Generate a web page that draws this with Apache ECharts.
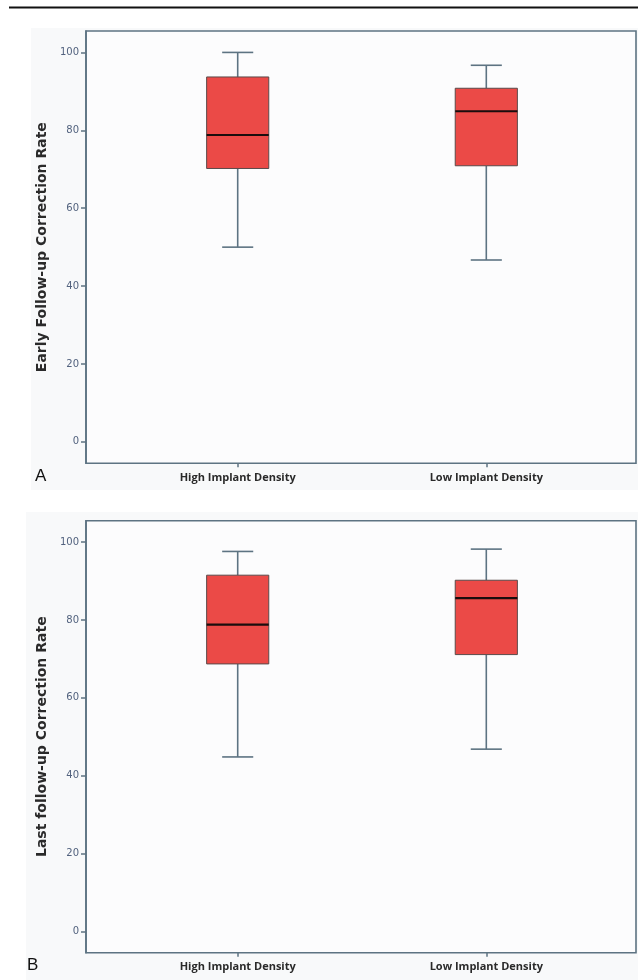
<!DOCTYPE html>
<html>
<head>
<meta charset="utf-8">
<script src="https://cdn.jsdelivr.net/npm/echarts@6/dist/echarts.min.js"></script>
<style>
    html, body {margin: 0; padding: 0; background: #fff;}
    #chart {width: 638px; height: 980px;}
</style>
</head>
<body>
<div id="chart"></div>
<script>
    // values: [low whisker, Q1, median, Q3, high whisker]
    var categories = ['High Implant Density', 'Low Implant Density'];
    var earlyHigh = [50, 70.2, 78.8, 93.7, 100];
    var earlyLow = [46.7, 70.9, 84.9, 90.8, 96.7];
    var lastHigh = [44.8, 68.7, 78.8, 91.5, 97.6];
    var lastLow = [46.8, 71.1, 85.6, 90.2, 98.2];
    var yTicks = [0, 20, 40, 60, 80, 100];
    var panelLetters = ['A', 'B'];
    var yNames = ['Early Follow-up Correction Rate', 'Last follow-up Correction Rate'];

    var frameColor = '#5d7382';
    var textColor = '#2a2a2a';

    var myChart = echarts.init(document.getElementById('chart'));

    function renderBox(params, api) {
        var x = api.value(0);
        var low = api.coord([x, api.value(1)]);
        var q1 = api.coord([x, api.value(2)]);
        var med = api.coord([x, api.value(3)]);
        var q3 = api.coord([x, api.value(4)]);
        var high = api.coord([x, api.value(5)]);
        var cx = low[0];
        var half = api.size([1, 0])[0] * 0.125;
        var cap = half / 2;
        var whisker = {stroke: frameColor, lineWidth: 1.6};
        return {
            type: 'group',
            children: [
                {type: 'line', shape: {x1: cx, y1: high[1], x2: cx, y2: q3[1]}, style: whisker},
                {type: 'line', shape: {x1: cx, y1: q1[1], x2: cx, y2: low[1]}, style: whisker},
                {type: 'line', shape: {x1: cx - cap, y1: high[1], x2: cx + cap, y2: high[1]}, style: whisker},
                {type: 'line', shape: {x1: cx - cap, y1: low[1], x2: cx + cap, y2: low[1]}, style: whisker},
                {
                    type: 'rect',
                    shape: {x: cx - half, y: q3[1], width: half * 2, height: q1[1] - q3[1]},
                    style: {fill: '#eb4a47', stroke: '#5a4a4a', lineWidth: 1}
                },
                {type: 'line', shape: {x1: cx - half, y1: med[1], x2: cx + half, y2: med[1]}, style: {stroke: '#1a0d0d', lineWidth: 2.2}}
            ]
        };
    }

    function toRows(a, b) {
        return [[0].concat(a), [1].concat(b)];
    }

    var panels = [
        {top: 31, bottom: 516.7, data: toRows(earlyHigh, earlyLow)},
        {top: 520.7, bottom: 27.3, data: toRows(lastHigh, lastLow)}
    ];

    var grid = [], xAxis = [], yAxis = [], series = [];

    panels.forEach(function (p, i) {
        // outer frame with the value axis
        grid.push({
            left: 86, right: 2, top: p.top, bottom: p.bottom,
            show: true, backgroundColor: '#fcfcfd',
            borderColor: frameColor, borderWidth: 1.6
        });
        // inner grid that places the two boxes
        grid.push({left: 113.4, right: 27.4, top: p.top, bottom: p.bottom});

        xAxis.push({gridIndex: i * 2, type: 'value', show: false});
        xAxis.push({
            gridIndex: i * 2 + 1,
            type: 'category',
            data: categories,
            axisLine: {show: false, onZero: false},
            axisTick: {show: true, alignWithLabel: true, length: 4, lineStyle: {color: frameColor, width: 1.5}},
            axisLabel: {margin: 9, fontFamily: 'Open Sans', fontWeight: 'bold', fontSize: 11, color: textColor}
        });

        yAxis.push({
            gridIndex: i * 2,
            type: 'value',
            min: -5.5,
            max: 105.5,
            name: yNames[i],
            nameLocation: 'middle',
            nameGap: 37,
            nameTextStyle: {fontFamily: 'DejaVu Sans', fontWeight: 'bold', fontSize: 14, color: textColor},
            axisLine: {show: true, lineStyle: {color: frameColor, width: 1.6}},
            axisTick: {show: true, length: 5, customValues: yTicks, lineStyle: {color: frameColor, width: 1.5}},
            axisLabel: {margin: 7, customValues: yTicks, fontFamily: 'DejaVu Sans', fontSize: 10, color: '#52627e'},
            splitLine: {show: false}
        });
        yAxis.push({gridIndex: i * 2 + 1, type: 'value', min: -5.5, max: 105.5, show: false});

        series.push({
            type: 'custom',
            xAxisIndex: i * 2 + 1,
            yAxisIndex: i * 2 + 1,
            renderItem: renderBox,
            data: p.data,
            silent: true
        });
    });

    var option = {
        animation: false,
        grid: grid,
        xAxis: xAxis,
        yAxis: yAxis,
        series: series,
        graphic: [
            {type: 'rect', z: -10, shape: {x: 31, y: 28, width: 607, height: 462}, style: {fill: '#f8f9fa'}},
            {type: 'rect', z: -10, shape: {x: 26, y: 512, width: 612, height: 468}, style: {fill: '#f8f9fa'}},
            {type: 'line', shape: {x1: 9, y1: 7.5, x2: 638, y2: 7.5}, style: {stroke: '#111', lineWidth: 2}},
            {
                type: 'text', left: 35, top: 468,
                style: {text: panelLetters[0], fontFamily: 'Liberation Sans', fontSize: 17, fill: '#111'}
            },
            {
                type: 'text', left: 27, top: 957,
                style: {text: panelLetters[1], fontFamily: 'Liberation Sans', fontSize: 17, fill: '#111'}
            }
        ]
    };

    myChart.setOption(option);
</script>
</body>
</html>
